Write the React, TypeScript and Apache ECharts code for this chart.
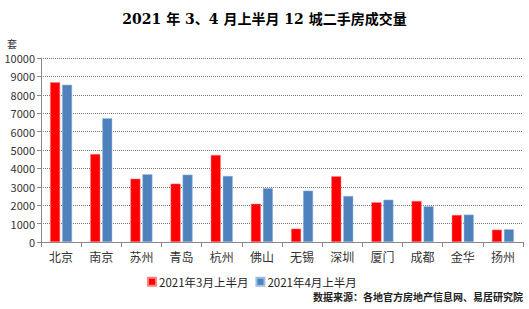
import React, { useEffect, useRef } from "react";
import * as echarts from "echarts";

const cities = ["北京", "南京", "苏州", "青岛", "杭州", "佛山", "无锡", "深圳", "厦门", "成都", "金华", "扬州"];
const marchFirstHalf = [8680, 4780, 3440, 3170, 4730, 2080, 725, 3570, 2160, 2230, 1470, 670];
const aprilFirstHalf = [8550, 6720, 3680, 3660, 3590, 2920, 2790, 2500, 2300, 1940, 1490, 690];
const seriesNames = ["2021年3月上半月", "2021年4月上半月"];
const titleText = "2021 年 3、4 月上半月 12 城二手房成交量";
const unitText = "套";
const sourceText = "数据来源：各地官方房地产信息网、易居研究院";

export default function App() {
  const ref = useRef<HTMLDivElement>(null);

  useEffect(() => {
    if (!ref.current) return;
    const chart = echarts.init(ref.current, null, { renderer: "svg" });
    const sans = "'Microsoft YaHei', 'Noto Sans CJK SC', 'Noto Sans', sans-serif";
    chart.setOption({
      animation: false,
      backgroundColor: "#ffffff",
      title: {
        text: titleText,
        left: "center",
        top: 7,
        textStyle: {
          fontFamily: "'DejaVu Serif', 'Noto Sans CJK SC', serif",
          fontSize: 14,
          fontWeight: "bold",
          color: "#000000",
        },
      },
      graphic: [
        {
          type: "text",
          left: 7,
          top: 38,
          style: { text: unitText, fontSize: 10, fill: "#333333", fontFamily: sans },
        },
        {
          type: "text",
          right: 6,
          top: 291,
          style: { text: sourceText, fontSize: 10, fontWeight: "bold", fill: "#222222", fontFamily: sans },
        },
      ],
      legend: {
        left: 142,
        top: 271,
        itemWidth: 8,
        itemHeight: 8,
        itemGap: 7,
        icon: "rect",
        textStyle: { fontSize: 11.5, color: "#222222", fontFamily: sans, padding: [0, 0, 0, -2] },
        data: seriesNames,
      },
      grid: { left: 41, right: 6, top: 58, bottom: 67 },
      xAxis: {
        type: "category",
        data: cities,
        axisLine: { lineStyle: { color: "#888888" } },
        axisTick: { show: true, alignWithLabel: false, length: 5, lineStyle: { color: "#888888" } },
        axisLabel: { fontSize: 12, color: "#333333", margin: 8, fontFamily: sans },
      },
      yAxis: {
        type: "value",
        min: 0,
        max: 10000,
        interval: 1000,
        axisLine: { show: true, lineStyle: { color: "#888888" } },
        axisTick: { show: true, length: 4, lineStyle: { color: "#888888" } },
        axisLabel: {
          fontSize: 11,
          color: "#333333",
          margin: 6,
          fontFamily: sans,
          formatter: (v: number) => String(v),
        },
        splitLine: { lineStyle: { color: "#777777", type: [1, 1], width: 1 } },
      },
      series: [
        {
          name: seriesNames[0],
          type: "bar",
          data: marchFirstHalf,
          barWidth: 10,
          barGap: "20%",
          itemStyle: { color: "#FF0000", borderColor: "#ff8080", borderWidth: 0.5 },
        },
        {
          name: seriesNames[1],
          type: "bar",
          data: aprilFirstHalf,
          barWidth: 10,
          barGap: "20%",
          itemStyle: { color: "#4F81BD", borderColor: "#9dbce0", borderWidth: 0.5 },
        },
      ],
    });
    return () => chart.dispose();
  }, []);

  return <div ref={ref} style={{ width: 529, height: 309, position: "absolute", left: 0, top: 0 }} />;
}
